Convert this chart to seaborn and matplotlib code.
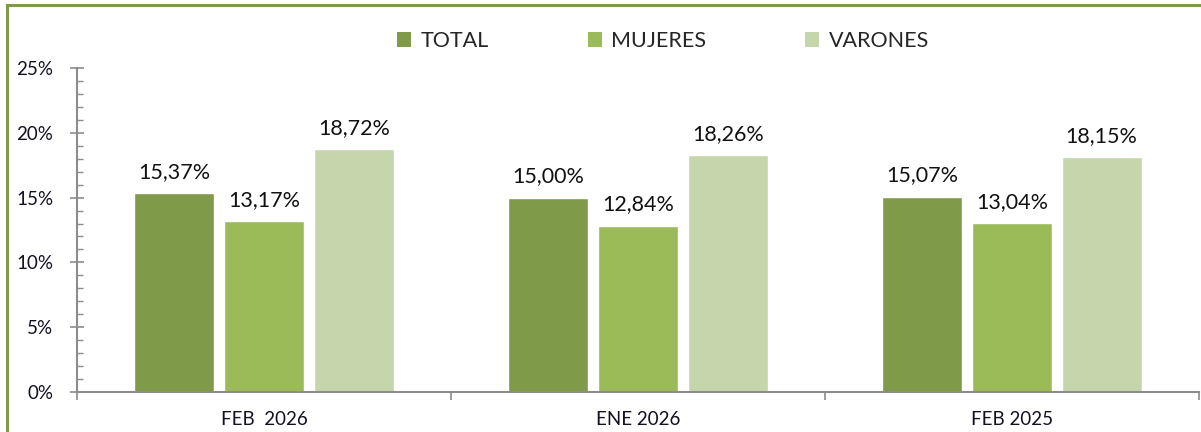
import numpy as np
import pandas as pd
import matplotlib
matplotlib.use('Agg')
import matplotlib.pyplot as plt
from matplotlib.patches import Rectangle, Patch
from matplotlib.ticker import MultipleLocator, FuncFormatter, FixedLocator
import seaborn as sns

sns.set_style("white")
plt.rcParams['font.family'] = ['Lato', 'DejaVu Sans']

# Data
periodos = ['FEB  2026', 'ENE 2026', 'FEB 2025']
series = ['TOTAL', 'MUJERES', 'VARONES']
total = [15.37, 15.00, 15.07]
mujeres = [13.17, 12.84, 13.04]
varones = [18.72, 18.26, 18.15]
colores = ['#7F9A48', '#9BBB59', '#C6D6AC']

df = pd.DataFrame({
    'periodo': periodos * 3,
    'serie': [s for s in series for _ in periodos],
    'valor': total + mujeres + varones,
})

fig = plt.figure(figsize=(12.01, 4.32), dpi=100)
ax = fig.add_axes([0.0641, 0.0926, 0.9342, 0.7500])

sns.barplot(data=df, x='periodo', y='valor', hue='serie', order=periodos,
            hue_order=series, palette=colores, width=0.72, gap=0.11,
            saturation=1, legend=False, ax=ax)

# value labels
for cont in ax.containers:
    labels = [('%.2f%%' % b.get_height()).replace('.', ',') for b in cont]
    ax.bar_label(cont, labels=labels, padding=8, fontsize=15.5, color='#111111')

# y axis
ax.set_ylim(0, 25)
ax.yaxis.set_major_locator(MultipleLocator(5))
ax.yaxis.set_minor_locator(MultipleLocator(1))
ax.yaxis.set_major_formatter(FuncFormatter(lambda v, p: '%d%%' % v))
ax.tick_params(axis='y', which='major', direction='inout', length=10, width=1.2,
               color='#8c8c8c', labelsize=13.5, labelcolor='#111122', pad=12, left=True)
ax.tick_params(axis='y', which='minor', direction='in', length=4, width=1,
               color='#8c8c8c', left=True)

# x axis
ax.set_xlim(-0.5, 2.5)
ax.xaxis.set_minor_locator(FixedLocator([-0.5, 0.5, 1.5, 2.5]))
ax.tick_params(axis='x', which='major', length=0, labelsize=13.5,
               labelcolor='#111122', pad=14)
ax.tick_params(axis='x', which='minor', direction='out', length=6, width=1.2,
               color='#8c8c8c', bottom=True)
ax.set_xlabel('')
ax.set_ylabel('')

for s in ['top', 'right']:
    ax.spines[s].set_visible(False)
for s in ['left', 'bottom']:
    ax.spines[s].set_color('#8c8c8c')
    ax.spines[s].set_linewidth(1.5)

# legend
handles = [Patch(facecolor=c, edgecolor='none', label=s) for c, s in zip(colores, series)]
fig.legend(handles=handles, loc='center', bbox_to_anchor=(0.552, 0.905), ncol=3,
           frameon=False, fontsize=15.5, handlelength=0.65, handleheight=0.65,
           handletextpad=0.45, columnspacing=4.6)

# green border of the chart frame
fig.patches.append(Rectangle((7 / 1201, -0.2), 1.2, 1.2 - 5 / 432,
                             transform=fig.transFigure, fill=False,
                             edgecolor='#7F9A48', linewidth=2.2))

fig.savefig('out.png', dpi=100)
